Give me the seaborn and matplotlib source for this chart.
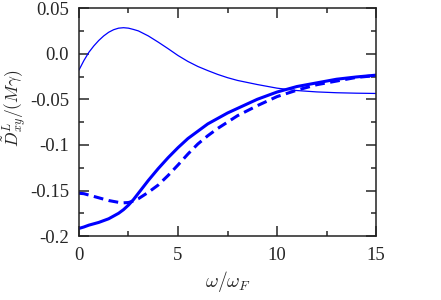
import matplotlib
matplotlib.use("Agg")
import matplotlib.pyplot as plt
import seaborn as sns
from matplotlib.ticker import MultipleLocator

# data
omega = [0, 0.25, 0.5, 0.75, 1, 1.25, 1.5, 1.75, 2, 2.25, 2.5, 2.75, 3,
         3.5, 4, 4.5, 5, 5.5, 6, 6.5, 7, 7.5, 8, 9, 10, 11, 12, 13, 14, 15]
thin = [-0.018, -0.0075, 0.0015, 0.0085, 0.0145, 0.0195, 0.0235, 0.0263, 0.028, 0.0285,
        0.028, 0.0266, 0.025, 0.0195, 0.0127, 0.0055, -0.002, -0.0085, -0.014, -0.0185,
        -0.0227, -0.0263, -0.0293, -0.0338, -0.0378, -0.0404, -0.0419, -0.0428, -0.0433, -0.0436]
solid = [-0.1916, -0.190, -0.188, -0.1865, -0.185, -0.183, -0.181, -0.178, -0.175, -0.171,
         -0.166, -0.160, -0.153, -0.139, -0.126, -0.114, -0.103, -0.093, -0.085, -0.077,
         -0.071, -0.065, -0.060, -0.050, -0.042, -0.036, -0.032, -0.028, -0.0255, -0.0235]
dashed = [-0.153, -0.1535, -0.155, -0.1565, -0.158, -0.1595, -0.161, -0.162, -0.163, -0.1635,
          -0.1632, -0.1615, -0.159, -0.152, -0.144, -0.1335, -0.122, -0.110, -0.099, -0.090,
          -0.082, -0.075, -0.068, -0.057, -0.047, -0.040, -0.034, -0.030, -0.026, -0.024]

sns.set_style("ticks")
plt.rcParams["font.family"] = "serif"
plt.rcParams["font.serif"] = ["Liberation Serif", "DejaVu Serif"]
plt.rcParams["mathtext.fontset"] = "cm"

fig = plt.figure(figsize=(4.41, 3.0), dpi=100)
ax = fig.add_axes([0.179, 0.213, 0.674, 0.760])

blue = "#0000ff"
sns.lineplot(x=omega, y=thin, ax=ax, color=blue, linewidth=0.9)
sns.lineplot(x=omega, y=solid, ax=ax, color=blue, linewidth=2.2)
sns.lineplot(x=omega, y=dashed, ax=ax, color=blue, linewidth=2.2, linestyle=(0, (3.2, 1.8)))

ax.set_xlim(0, 15)
ax.set_ylim(-0.2, 0.05)
ax.set_xticks([0, 5, 10, 15])
ax.set_yticks([-0.2, -0.15, -0.1, -0.05, 0.0, 0.05])
ax.set_yticklabels(["-0.2", "-0.15", "-0.1", "-0.05", "0.0", "0.05"])
ax.xaxis.set_minor_locator(MultipleLocator(2.5))
ax.yaxis.set_minor_locator(MultipleLocator(0.025))
ax.tick_params(which="both", direction="in", top=True, right=True, width=1.1, labelsize=13.5)
ax.tick_params(which="major", length=7)
ax.tick_params(which="minor", length=3.5)
ax.tick_params(axis="x", pad=8)
ax.tick_params(axis="y", pad=7)
for s in ax.spines.values():
    s.set_linewidth(1.1)
    s.set_color("#222222")

ax.set_xlabel(r"$\omega/\omega_F$", fontsize=14)
ax.set_ylabel(r"$\tilde{D}^{L}_{xy}/(M\gamma)$", fontsize=12.5)
ax.xaxis.set_label_coords(0.5, -0.145)
ax.yaxis.set_label_coords(-0.17, 0.56)

fig.savefig("out.png", dpi=100)
